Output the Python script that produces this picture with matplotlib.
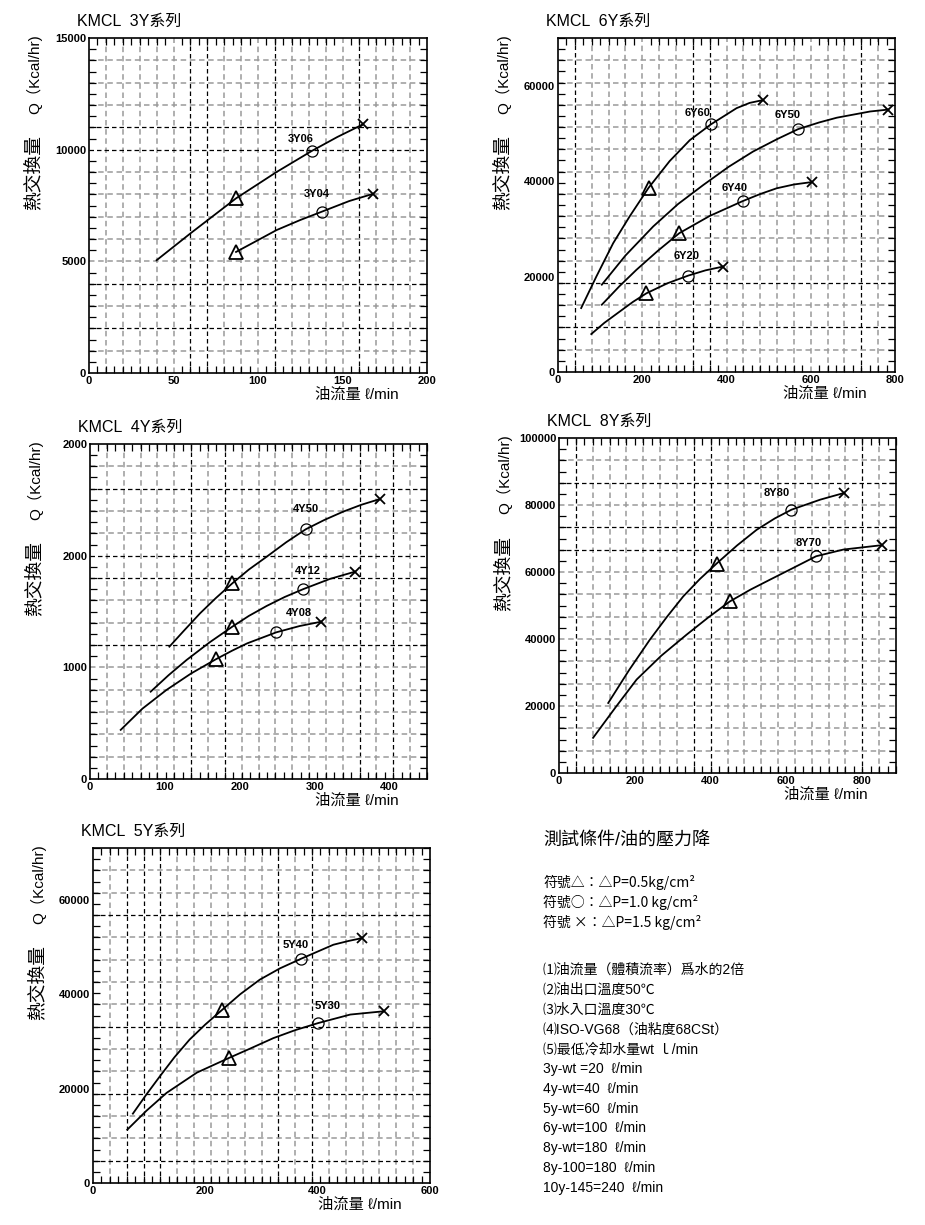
import matplotlib
matplotlib.use('Agg')
import matplotlib.pyplot as plt
import numpy as np

plt.rcParams['font.family'] = ['Liberation Sans', 'Noto Sans CJK TC', 'DejaVu Sans']

W, H = 925, 1225

# ---- dados (油流量 l/min, 熱交換量 Kcal/hr) ----
# KMCL 3Y
flow_3y06 = [40, 60, 87, 111, 132, 147, 162]
heat_3y06 = [5050, 6250, 7820, 9000, 9950, 10570, 11130]
flow_3y04 = [87, 100, 111, 125, 138, 154, 168]
heat_3y04 = [5420, 5950, 6400, 6850, 7230, 7700, 8020]

# KMCL 6Y
flow_6y60 = [55, 91, 131, 170, 215, 265, 313, 363, 424, 455, 487]
heat_6y60 = [13400, 20000, 27000, 32600, 38600, 44200, 48600, 51900, 55300, 56400, 57000]
flow_6y50 = [104, 160, 226, 285, 345, 405, 463, 520, 570, 620, 662, 741, 784]
heat_6y50 = [18300, 24400, 30500, 35200, 39200, 43000, 46200, 48800, 50900, 52300, 53300, 54600, 55000]
flow_6y40 = [104, 145, 186, 237, 288, 360, 438, 480, 519, 560, 602]
heat_6y40 = [14100, 17900, 21400, 25400, 29100, 32700, 35800, 37300, 38500, 39300, 39800]
flow_6y20 = [79, 110, 147, 178, 210, 260, 309, 350, 392]
heat_6y20 = [7950, 10300, 12700, 14700, 16500, 18600, 20200, 21300, 22100]

# KMCL 4Y
flow_4y50 = [106, 125, 147, 168, 190, 212, 236, 262, 288, 313, 338, 362, 387]
heat_4y50 = [1185, 1325, 1484, 1620, 1752, 1875, 1991, 2120, 2236, 2320, 2394, 2455, 2507]
flow_4y12 = [81, 105, 129, 160, 190, 212, 236, 260, 285, 320, 354]
heat_4y12 = [782, 930, 1066, 1225, 1364, 1460, 1550, 1630, 1701, 1791, 1857]
flow_4y08 = [41, 70, 102, 135, 168, 190, 210, 249, 280, 309]
heat_4y08 = [440, 630, 797, 945, 1072, 1150, 1215, 1314, 1370, 1409]

# KMCL 8Y
flow_8y80 = [130, 185, 240, 285, 328, 372, 416, 470, 522, 570, 614, 690, 753]
heat_8y80 = [20900, 30700, 39800, 46600, 52700, 57900, 62500, 67900, 72600, 76000, 78600, 81600, 83600]
flow_8y70 = [90, 150, 205, 270, 337, 395, 451, 505, 557, 620, 679, 751, 852]
heat_8y70 = [10500, 19700, 27900, 35000, 41300, 46500, 51200, 54700, 57700, 61300, 64700, 66700, 68000]

# KMCL 5Y
flow_5y40 = [71, 95, 119, 145, 172, 200, 229, 262, 297, 333, 370, 428, 455, 479]
heat_5y40 = [14700, 18750, 22600, 26650, 30400, 33600, 36600, 40000, 43100, 45500, 47500, 50500, 51300, 51900]
flow_5y30 = [61, 95, 131, 185, 242, 280, 321, 360, 401, 458, 518]
heat_5y30 = [11300, 15300, 19100, 23400, 26500, 28500, 30700, 32400, 33900, 35700, 36400]

# eixos: limites e rotulos
xt_3y = [0, 50, 100, 150, 200]
yt_3y = [0, 5000, 10000, 15000]
xt_6y = [0, 200, 400, 600, 800]
yt_6y = [0, 20000, 40000, 60000]
xt_4y = [0, 100, 200, 300, 400]
yt_4y = [0, 1000, 2000, 3000]
ylab_4y = ['0', '1000', '2000', '2000']      # o original repete 2000 no topo
xt_8y = [0, 200, 400, 600, 800]
yt_8y = [0, 20000, 40000, 60000, 80000, 100000]
xt_5y = [0, 200, 400, 600]
yt_5y = [0, 20000, 40000, 60000]

notas = ['⑴油流量（體積流率）爲水的2倍',
         '⑵油出口溫度50℃',
         '⑶水入口溫度30℃',
         '⑷ISO-VG68（油粘度68CSt）',
         '⑸最低冷却水量wt ｌ/min',
         '3y-wt =20  ℓ/min',
         '4y-wt=40  ℓ/min',
         '5y-wt=60  ℓ/min',
         '6y-wt=100  ℓ/min',
         '8y-wt=180  ℓ/min',
         '8y-100=180  ℓ/min',
         '10y-145=240  ℓ/min']
simbolos = ['符號△：△P=0.5kg/cm²',
            '符號○：△P=1.0 kg/cm²',
            '符號 ×：△P=1.5 kg/cm²']

cor_cinza = '#9a9a9a'
cor_preto = 'black'

fig = plt.figure(figsize=(W / 100, H / 100), dpi=100)


def fx(x):
    return x / W


def fy(y):
    return 1 - y / H


def painel(left, top, right, bottom, xmax, ymax, xt, yt, titulo, series,
           pretas_v, pretas_h, ylabels=None):
    ax = fig.add_axes([fx(left), fy(bottom), (right - left) / W, (bottom - top) / H])
    ax.set_xlim(0, xmax)
    ax.set_ylim(0, ymax)

    #grade 20 x 15 tracejada (algumas linhas pretas)
    for i in range(1, 20):
        c = cor_preto if i in pretas_v else cor_cinza
        lw = 0.9 if i in pretas_v else 1.1
        ax.axvline(xmax * i / 20, color=c, lw=lw, ls=(0, (3.6, 2.4)), zorder=1)
    for j in range(1, 15):
        c = cor_preto if j in pretas_h else cor_cinza
        lw = 0.9 if j in pretas_h else 1.1
        ax.axhline(ymax * j / 15, color=c, lw=lw, ls=(0, (3.6, 2.4)), zorder=1)

    #ticks
    ax.set_xticks(xt)
    ax.set_xticklabels([str(v) for v in xt], fontsize=8, fontweight='bold')
    ax.set_yticks(yt)
    ax.set_yticklabels(ylabels if ylabels else [str(v) for v in yt], fontsize=8, fontweight='bold')
    ax.tick_params(which='major', length=0, pad=2)
    ax.set_xticks(np.linspace(0, xmax, 41), minor=True)
    ax.set_yticks(np.linspace(0, ymax, 31), minor=True)
    ax.tick_params(which='minor', direction='in', length=5, width=0.9,
                   top=True, bottom=True, left=True, right=True)
    for s in ax.spines.values():
        s.set_linewidth(1.2)

    #curvas e marcadores
    for flow, heat, nome, marcas, pos in series:
        ax.plot(flow, heat, color='black', lw=1.3, zorder=3, solid_joinstyle='round')
        for mk, idx in marcas:
            if mk == '^':
                ax.plot(flow[idx], heat[idx], '^', ms=9.5, mfc='none', mec='black', mew=1.3, zorder=4)
            elif mk == 'o':
                ax.plot(flow[idx], heat[idx], 'o', ms=8, mfc='none', mec='black', mew=0.9, zorder=4)
            else:
                ax.plot(flow[idx], heat[idx], 'x', ms=7, mec='black', mew=1.3, zorder=4)
        ax.text(pos[0], pos[1], nome, fontsize=8, fontweight='bold', ha='center', va='center', zorder=5)

    #titulo e rotulos
    fig.text(fx(left - 12), fy(top - 17), titulo, fontsize=11.5, ha='left', va='center')
    fig.text(fx(left - 55), fy(top + 36), 'Q（Kcal/hr)', fontsize=11, rotation=90, ha='center', va='center')
    fig.text(fx(left - 55), fy(top + 135), '熱交換量', fontsize=13.5, rotation=90, ha='center', va='center')
    fig.text(fx(right - 70), fy(bottom + 22), '油流量 ℓ/min', fontsize=11, ha='center', va='center')
    return ax


T, C, X = '^', 'o', 'x'

painel(89, 38, 427, 373, 200, 15000, xt_3y, yt_3y, 'KMCL  3Y系列',
       [(flow_3y06, heat_3y06, '3Y06', [(T, 2), (C, 4), (X, 6)], (125, 10480)),
        (flow_3y04, heat_3y04, '3Y04', [(T, 0), (C, 4), (X, 6)], (135, 8016))],
       [6, 7, 11, 16], [2, 4, 10, 11])

painel(558, 38, 895, 372, 800, 70000, xt_6y, yt_6y, 'KMCL  6Y系列',
       [(flow_6y60, heat_6y60, '6Y60', [(T, 4), (C, 7), (X, 10)], (332, 54250)),
        (flow_6y50, heat_6y50, '6Y50', [(C, 8), (X, 12)], (545, 53830)),
        (flow_6y40, heat_6y40, '6Y40', [(T, 4), (C, 6), (X, 10)], (420, 38560)),
        (flow_6y20, heat_6y20, '6Y20', [(T, 4), (C, 6), (X, 8)], (305, 24330))],
       [1, 8, 9, 18], [2, 4])

painel(90, 444, 427, 779, 450, 3000, xt_4y, yt_4y, 'KMCL  4Y系列',
       [(flow_4y50, heat_4y50, '4Y50', [(T, 4), (C, 8), (X, 12)], (289, 2418)),
        (flow_4y12, heat_4y12, '4Y12', [(T, 4), (C, 8), (X, 10)], (291, 1865)),
        (flow_4y08, heat_4y08, '4Y08', [(T, 4), (C, 7), (X, 9)], (279, 1484))],
       [6, 8, 16, 18], [6, 9, 10, 13], ylabels=ylab_4y)

painel(559, 438, 896, 773, 890, 100000, xt_8y, yt_8y, 'KMCL  8Y系列',
       [(flow_8y80, heat_8y80, '8Y80', [(T, 6), (C, 10), (X, 12)], (575, 83580)),
        (flow_8y70, heat_8y70, '8Y70', [(T, 6), (C, 10), (X, 12)], (660, 68660))],
       [1, 8, 9, 18], [10, 11, 13])

painel(93, 848, 430, 1183, 600, 71000, xt_5y, yt_5y, 'KMCL  5Y系列',
       [(flow_5y40, heat_5y40, '5Y40', [(T, 6), (C, 10), (X, 13)], (360, 50510)),
        (flow_5y30, heat_5y30, '5Y30', [(T, 4), (C, 8), (X, 10)], (418, 37580))],
       [2, 3, 4, 11, 13], [1, 4, 7, 12])

#bloco de texto das condicoes de teste
fig.text(fx(543), fy(840), '測試條件/油的壓力降', fontsize=13, ha='left', va='center')
y = 882
for s in simbolos:
    fig.text(fx(543), fy(y), s, fontsize=10, ha='left', va='center',
             family=['Noto Sans CJK TC', 'DejaVu Sans'])
    y += 20
y = 970
for s in notas:
    fig.text(fx(543), fy(y), s, fontsize=10, ha='left', va='center')
    y += 19.8

fig.savefig('out.png', dpi=100)
